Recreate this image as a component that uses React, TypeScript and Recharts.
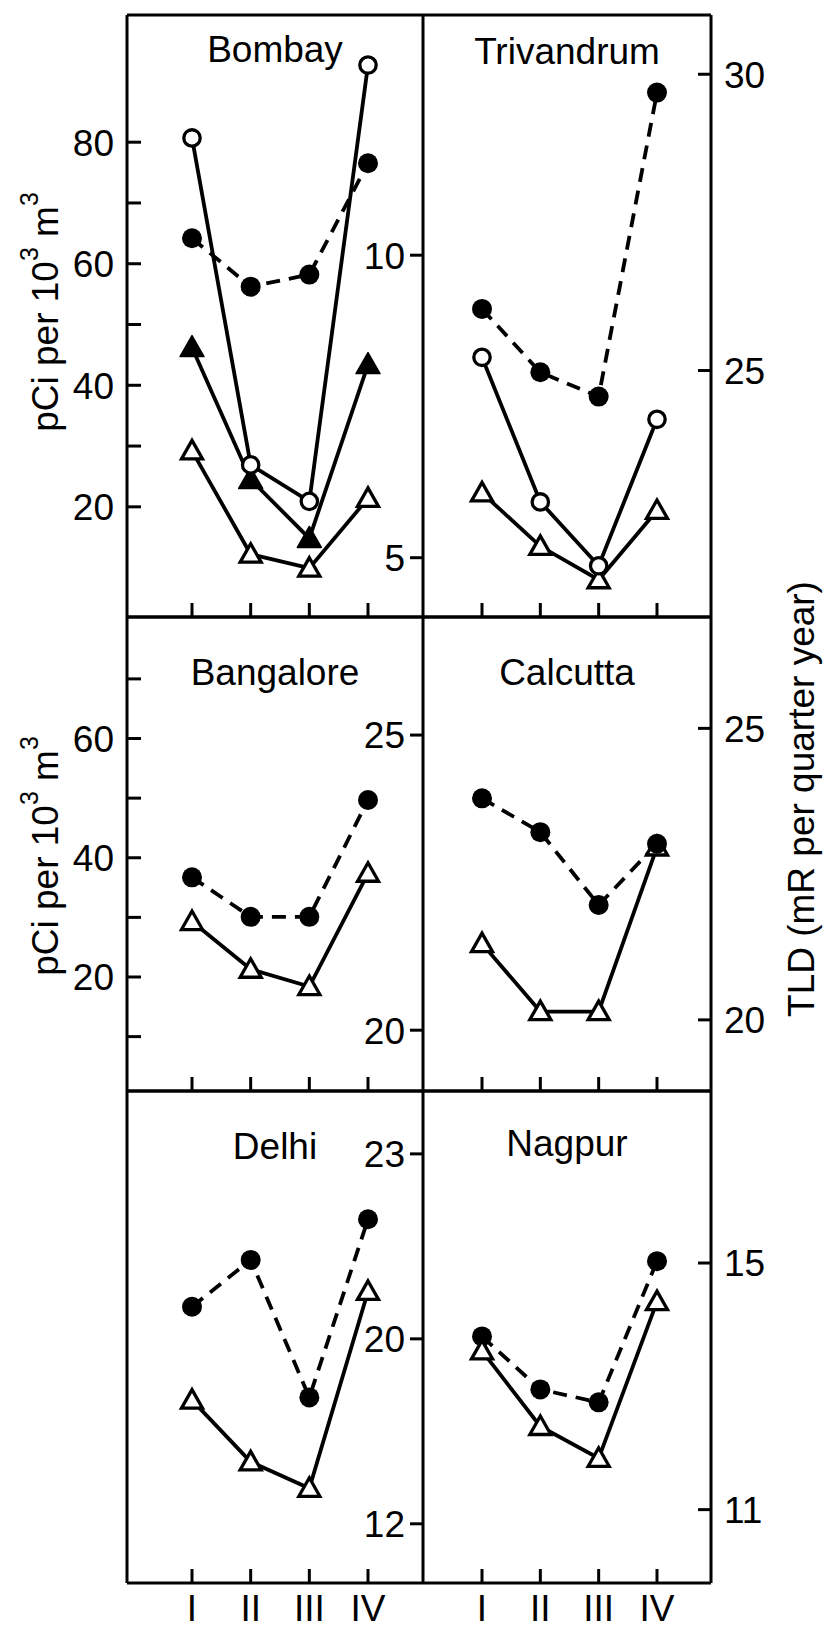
import React from 'react';
import { LineChart, Line, XAxis, YAxis } from 'recharts';

const PAGE_W = 825;
const PAGE_H = 1631;
const FONT = '"Liberation Sans", Arial, Helvetica, sans-serif';
const FS = 37;
const INK = '#000';

// ---------- categories ----------
const quarters = ['I', 'II', 'III', 'IV'];

// ---------- series values ----------
// Bombay (pCi per 10^3 m^3 on left axis, TLD on middle axis)
const bombayOpenCircles = [80.7, 26.9, 20.9, 92.7];
const bombayFilledTriangles = [46.2, 24.5, 14.8, 43.4];
const bombayOpenTriangles = [29.2, 12.2, 9.9, 21.4];
const bombayTLD = [10.28, 9.48, 9.68, 11.52];

// Trivandrum
const trivandrumOpenCircles = [44.6, 20.8, 10.3, 34.4];
const trivandrumOpenTriangles = [22.3, 13.5, 8.0, 19.4];
const trivandrumTLD = [26.04, 24.97, 24.56, 29.69];

// Bangalore
const bangaloreOpenTriangles = [29.3, 21.3, 18.4, 37.4];
const bangaloreTLD = [22.59, 21.92, 21.92, 23.9];

// Calcutta
const calcuttaOpenTriangles = [25.6, 14.2, 14.2, 41.8];
const calcuttaTLD = [23.8, 23.22, 21.97, 23.02];

// Delhi
const delhiOpenTriangles = [32.6, 22.3, 17.9, 50.7];
const delhiTLD = [20.52, 21.28, 19.05, 21.94];

// Nagpur
const nagpurOpenTriangles = [40.8, 28.2, 22.9, 49.0];
const nagpurTLD = [13.81, 12.95, 12.74, 15.03];

// ---------- axis ticks & labels ----------
const row1PciTicks = [20, 30, 40, 50, 60, 70, 80];
const row1PciLabels = ['20', '', '40', '', '60', '', '80'];
const row2PciTicks = [10, 20, 30, 40, 50, 60, 70];
const row2PciLabels = ['', '20', '', '40', '', '60', ''];
const bombayTldTicks = [5, 10];
const bombayTldLabels = ['5', '10'];
const trivandrumTldTicks = [25, 30];
const trivandrumTldLabels = ['25', '30'];
const bangaloreTldTicks = [20, 25];
const bangaloreTldLabels = ['20', '25'];
const calcuttaTldTicks = [20, 25];
const calcuttaTldLabels = ['20', '25'];
const delhiTldTicks = [17, 20, 23];
const delhiTldLabels = ['12', '20', '23'];
const nagpurTldTicks = [11, 15];
const nagpurTldLabels = ['11', '15'];

// ---------- axis ranges ----------
const row1PciDomain: [number, number] = [1.87, 100.93];
const row2PciDomain: [number, number] = [0.88, 80.38];
const row3PciDomain: [number, number] = [2.12, 84.1];
const bombayTldDomain: [number, number] = [4.02, 13.97];
const trivandrumTldDomain: [number, number] = [20.84, 31.0];
const bangaloreTldDomain: [number, number] = [18.97, 27.0];
const calcuttaTldDomain: [number, number] = [18.78, 26.91];
const delhiTldDomain: [number, number] = [16.04, 24.02];
const nagpurTldDomain: [number, number] = [9.81, 17.79];

// ---------- layout ----------
const COL_L = { x0: 127, x1: 423, padL: 65, padR: 55 };
const COL_R = { x0: 423, x1: 711, padL: 59, padR: 54 };
const ROW1 = { y0: 15, y1: 617 };
const ROW2 = { y0: 617, y1: 1091 };
const ROW3 = { y0: 1091, y1: 1583 };
const QUARTER_LABEL_Y = 1621;
const AX = 1; // thickness reserved by each axis

type MarkerKind = 'openCircle' | 'filledCircle' | 'openTriangle' | 'filledTriangle';

type SeriesSpec = {
  key: string;
  values: number[];
  axis: 'pci' | 'tld';
  marker: MarkerKind;
  dashed?: boolean;
};

type PanelSpec = {
  title: string;
  titleY: number;
  col: typeof COL_L;
  row: typeof ROW1;
  pciDomain: [number, number];
  pciTicks?: number[];
  pciLabels: string[];
  pciMode: 'shown' | 'lineOnly' | 'none';
  tldDomain: [number, number];
  tldTicks: number[];
  tldLabels: string[];
  tldMode: 'inner' | 'outer';
  bottomLabels: boolean;
  series: SeriesSpec[];
};

const Marker = ({ kind, cx, cy }: { kind: MarkerKind; cx?: number; cy?: number }) => {
  if (cx == null || cy == null || isNaN(cx) || isNaN(cy)) return null;
  switch (kind) {
    case 'openCircle':
      return <circle cx={cx} cy={cy} r={8.2} fill="#fff" stroke={INK} strokeWidth={3.3} />;
    case 'filledCircle':
      return <circle cx={cx} cy={cy} r={10} fill={INK} />;
    case 'filledTriangle':
      return (
        <polygon
          points={`${cx},${cy - 12} ${cx + 12},${cy + 9} ${cx - 12},${cy + 9}`}
          fill={INK}
          stroke={INK}
          strokeWidth={1.5}
          strokeLinejoin="round"
        />
      );
    case 'openTriangle':
    default:
      return (
        <polygon
          points={`${cx},${cy - 10.5} ${cx + 10.5},${cy + 8} ${cx - 10.5},${cy + 8}`}
          fill="#fff"
          stroke={INK}
          strokeWidth={3.3}
          strokeLinejoin="miter"
        />
      );
  }
};

const textStyle = { fontFamily: FONT, fontSize: FS, fill: INK } as const;

function makeYTick(edgeX: number, mode: 'leftIn' | 'inner' | 'outer', ticks: number[], labels: string[]) {
  return (props: any) => {
    const { y, payload, index } = props;
    const v = payload ? payload.value : undefined;
    const i = ticks.indexOf(v);
    const label = i >= 0 ? labels[i] : '';
    if (mode === 'leftIn') {
      return (
        <g key={`yl-${index}`}>
          <line x1={edgeX} x2={edgeX + 14} y1={y} y2={y} stroke={INK} strokeWidth={3} />
          {label ? (
            <text x={edgeX - 13} y={y} dy="0.36em" textAnchor="end" {...textStyle}>
              {label}
            </text>
          ) : null}
        </g>
      );
    }
    if (mode === 'inner') {
      return (
        <g key={`yi-${index}`}>
          <line x1={edgeX} x2={edgeX - 13} y1={y} y2={y} stroke={INK} strokeWidth={3} />
          {label ? (
            <text x={edgeX - 18} y={y} dy="0.36em" textAnchor="end" {...textStyle}>
              {label}
            </text>
          ) : null}
        </g>
      );
    }
    return (
      <g key={`yo-${index}`}>
        <line x1={edgeX} x2={edgeX - 13} y1={y} y2={y} stroke={INK} strokeWidth={3} />
        {label ? (
          <text x={edgeX + 13} y={y} dy="0.36em" textAnchor="start" {...textStyle}>
            {label}
          </text>
        ) : null}
      </g>
    );
  };
}

function makeXTick(baseY: number, showLabel: boolean) {
  return (props: any) => {
    const { x, payload, index } = props;
    return (
      <g key={`x-${index}`}>
        <line x1={x} x2={x} y1={baseY} y2={baseY - 14} stroke={INK} strokeWidth={3} />
        {showLabel ? (
          <text x={x} y={QUARTER_LABEL_Y} textAnchor="middle" {...textStyle}>
            {payload.value}
          </text>
        ) : null}
      </g>
    );
  };
}

const frameLine = { stroke: INK, strokeWidth: 3 };

function Panel({ spec }: { spec: PanelSpec }) {
  const { col, row } = spec;
  const data = quarters.map((q, i) => {
    const r: Record<string, any> = { q };
    spec.series.forEach((s) => {
      r[s.key] = s.values[i];
    });
    return r;
  });
  return (
    <div style={{ position: 'absolute', left: 0, top: 0, width: PAGE_W, height: PAGE_H }}>
      <LineChart
        width={PAGE_W}
        height={PAGE_H}
        data={data}
        margin={{
          top: row.y0 - AX,
          bottom: PAGE_H - row.y1 - AX,
          left: col.x0 - AX,
          right: PAGE_W - col.x1 - AX,
        }}
      >
        <XAxis
          xAxisId="b"
          dataKey="q"
          type="category"
          padding={{ left: col.padL, right: col.padR }}
          height={AX}
          axisLine={frameLine}
          tickLine={false}
          interval={0}
          tick={makeXTick(row.y1, spec.bottomLabels)}
        />
        <XAxis
          xAxisId="t"
          dataKey="q"
          type="category"
          orientation="top"
          height={AX}
          axisLine={frameLine}
          tickLine={false}
          interval={0}
          tick={false}
        />
        <YAxis
          yAxisId="pci"
          type="number"
          orientation="left"
          domain={spec.pciDomain}
          allowDataOverflow
          width={AX}
          ticks={spec.pciTicks}
          interval={0}
          axisLine={spec.pciMode === 'none' ? false : frameLine}
          tickLine={false}
          tick={
            spec.pciMode === 'shown' && spec.pciTicks
              ? makeYTick(col.x0, 'leftIn', spec.pciTicks, spec.pciLabels)
              : false
          }
        />
        <YAxis
          yAxisId="tld"
          type="number"
          orientation="right"
          domain={spec.tldDomain}
          allowDataOverflow
          width={AX}
          ticks={spec.tldTicks}
          interval={0}
          axisLine={frameLine}
          tickLine={false}
          tick={makeYTick(col.x1, spec.tldMode, spec.tldTicks, spec.tldLabels)}
        />
        {spec.series.map((s) => (
          <Line
            key={s.key}
            xAxisId="b"
            yAxisId={s.axis}
            dataKey={s.key}
            type="linear"
            stroke={INK}
            strokeWidth={3.8}
            strokeDasharray={s.dashed ? '14 9' : undefined}
            dot={(p: any) => <Marker key={`${s.key}-${p.index}`} kind={s.marker} cx={p.cx} cy={p.cy} />}
            activeDot={false}
            isAnimationActive={false}
          />
        ))}
      </LineChart>
    </div>
  );
}

const panels: PanelSpec[] = [
  {
    title: 'Bombay',
    titleY: 62,
    col: COL_L,
    row: ROW1,
    pciDomain: row1PciDomain,
    pciTicks: row1PciTicks,
    pciLabels: row1PciLabels,
    pciMode: 'shown',
    tldDomain: bombayTldDomain,
    tldTicks: bombayTldTicks,
    tldLabels: bombayTldLabels,
    tldMode: 'inner',
    bottomLabels: false,
    series: [
      { key: 'openTri', values: bombayOpenTriangles, axis: 'pci', marker: 'openTriangle' },
      { key: 'fillTri', values: bombayFilledTriangles, axis: 'pci', marker: 'filledTriangle' },
      { key: 'openCirc', values: bombayOpenCircles, axis: 'pci', marker: 'openCircle' },
      { key: 'tld', values: bombayTLD, axis: 'tld', marker: 'filledCircle', dashed: true },
    ],
  },
  {
    title: 'Trivandrum',
    titleY: 64,
    col: COL_R,
    row: ROW1,
    pciDomain: row1PciDomain,
    pciLabels: [],
    pciMode: 'none',
    tldDomain: trivandrumTldDomain,
    tldTicks: trivandrumTldTicks,
    tldLabels: trivandrumTldLabels,
    tldMode: 'outer',
    bottomLabels: false,
    series: [
      { key: 'openTri', values: trivandrumOpenTriangles, axis: 'pci', marker: 'openTriangle' },
      { key: 'openCirc', values: trivandrumOpenCircles, axis: 'pci', marker: 'openCircle' },
      { key: 'tld', values: trivandrumTLD, axis: 'tld', marker: 'filledCircle', dashed: true },
    ],
  },
  {
    title: 'Bangalore',
    titleY: 685,
    col: COL_L,
    row: ROW2,
    pciDomain: row2PciDomain,
    pciTicks: row2PciTicks,
    pciLabels: row2PciLabels,
    pciMode: 'shown',
    tldDomain: bangaloreTldDomain,
    tldTicks: bangaloreTldTicks,
    tldLabels: bangaloreTldLabels,
    tldMode: 'inner',
    bottomLabels: false,
    series: [
      { key: 'openTri', values: bangaloreOpenTriangles, axis: 'pci', marker: 'openTriangle' },
      { key: 'tld', values: bangaloreTLD, axis: 'tld', marker: 'filledCircle', dashed: true },
    ],
  },
  {
    title: 'Calcutta',
    titleY: 685,
    col: COL_R,
    row: ROW2,
    pciDomain: row2PciDomain,
    pciLabels: [],
    pciMode: 'none',
    tldDomain: calcuttaTldDomain,
    tldTicks: calcuttaTldTicks,
    tldLabels: calcuttaTldLabels,
    tldMode: 'outer',
    bottomLabels: false,
    series: [
      { key: 'openTri', values: calcuttaOpenTriangles, axis: 'pci', marker: 'openTriangle' },
      { key: 'tld', values: calcuttaTLD, axis: 'tld', marker: 'filledCircle', dashed: true },
    ],
  },
  {
    title: 'Delhi',
    titleY: 1159,
    col: COL_L,
    row: ROW3,
    pciDomain: row3PciDomain,
    pciLabels: [],
    pciMode: 'lineOnly',
    tldDomain: delhiTldDomain,
    tldTicks: delhiTldTicks,
    tldLabels: delhiTldLabels,
    tldMode: 'inner',
    bottomLabels: true,
    series: [
      { key: 'openTri', values: delhiOpenTriangles, axis: 'pci', marker: 'openTriangle' },
      { key: 'tld', values: delhiTLD, axis: 'tld', marker: 'filledCircle', dashed: true },
    ],
  },
  {
    title: 'Nagpur',
    titleY: 1156,
    col: COL_R,
    row: ROW3,
    pciDomain: row3PciDomain,
    pciLabels: [],
    pciMode: 'none',
    tldDomain: nagpurTldDomain,
    tldTicks: nagpurTldTicks,
    tldLabels: nagpurTldLabels,
    tldMode: 'outer',
    bottomLabels: true,
    series: [
      { key: 'tld', values: nagpurTLD, axis: 'tld', marker: 'filledCircle', dashed: true },
      { key: 'openTri', values: nagpurOpenTriangles, axis: 'pci', marker: 'openTriangle' },
    ],
  },
];

const PciTitle = ({ cy }: { cy: number }) => {
  const bx = 58;
  return (
    <text transform={`rotate(-90 ${bx} ${cy})`} x={bx} y={cy} textAnchor="middle" {...textStyle}>
      pCi per 10
      <tspan dy={-20} fontSize={25}>
        3
      </tspan>
      <tspan dy={20}> m</tspan>
      <tspan dy={-20} fontSize={25}>
        3
      </tspan>
    </text>
  );
};

export default function App() {
  return (
    <div
      style={{
        position: 'absolute',
        left: 0,
        top: 0,
        width: PAGE_W,
        height: PAGE_H,
        background: '#fff',
        overflow: 'hidden',
      }}
    >
      {panels.map((p) => (
        <Panel key={p.title} spec={p} />
      ))}
      <svg
        width={PAGE_W}
        height={PAGE_H}
        style={{ position: 'absolute', left: 0, top: 0, pointerEvents: 'none' }}
      >
        {panels.map((p) => (
          <text
            key={p.title}
            x={(p.col.x0 + p.col.x1) / 2}
            y={p.titleY}
            textAnchor="middle"
            {...textStyle}
          >
            {p.title}
          </text>
        ))}
        <PciTitle cy={312} />
        <PciTitle cy={856} />
        <text transform="rotate(-90 814 799)" x={814} y={799} textAnchor="middle" {...textStyle}>
          TLD (mR per quarter year)
        </text>
      </svg>
    </div>
  );
}
